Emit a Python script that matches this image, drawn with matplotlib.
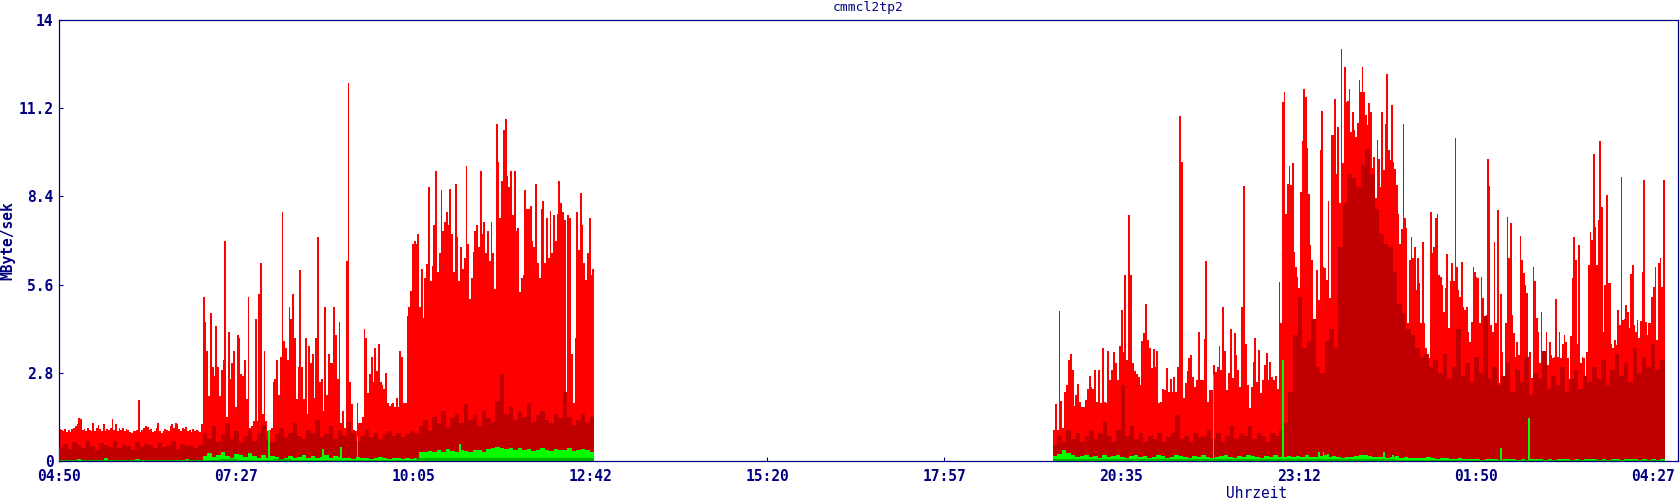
import matplotlib
matplotlib.use("Agg")
import matplotlib.pyplot as plt
import numpy as np

# time axis: minutes after 04:50, one day long
tick_labels = ['04:50', '07:27', '10:05', '12:42', '15:20', '17:57',
               '20:35', '23:12', '01:50', '04:27']
y_ticks = [0, 2.8, 5.6, 8.4, 11.2, 14]
y_tick_labels = ['0', '2.8', '5.6', '8.4', '11.2', '14']

# MByte/sek, red = max
red_left_quiet = [  # 04:50 - 06:58
    1.01, 1.0, 0.95, 1.01, 0.93, 0.97, 0.93, 1.01, 1.06, 1.11, 1.16, 1.35, 1.32, 0.97, 1.01,
    0.95, 1.06, 0.97, 0.95, 1.22, 0.95, 1.06, 1.14, 1.01, 0.95, 1.19, 0.95, 1.01, 0.97, 1.06,
    1.32, 0.97, 1.16, 0.95, 1.06, 0.98, 1.06, 0.95, 1.01, 0.97, 0.93, 0.90, 0.95, 0.95, 0.97,
    1.94, 0.93, 0.97, 1.06, 1.11, 1.08, 0.98, 1.01, 0.93, 0.95, 1.06, 1.22, 0.95, 0.90, 0.95,
    1.01, 0.97, 0.95, 1.11, 1.16, 1.06, 1.22, 1.16, 1.01, 0.95, 1.06, 1.01, 1.08, 0.95, 0.97,
    0.93, 1.01, 0.95, 0.97, 0.95, 0.93, 1.16]
red_left_busy = [  # 06:58 - 12:46
    5.2, 4.4, 3.5, 2.06, 4.7, 3.0, 2.7, 4.3, 3.0, 2.06, 2.9, 3.2, 7.0, 1.4, 4.1, 2.6, 3.1, 3.5,
    1.7, 4.0, 3.9, 2.75, 2.7, 3.2, 1.96, 5.2, 1.06, 1.1, 1.27, 4.5, 1.27, 5.3, 6.3, 1.5, 3.5,
    1.27, 0.95, 1.0, 1.06, 2.5, 2.6, 3.2, 2.1, 3.3, 7.9, 3.8, 3.6, 3.2, 4.9, 4.5, 5.3, 3.9,
    1.96, 3.0, 6.05, 3.0, 1.96, 3.9, 1.5, 3.65, 3.1, 3.4, 2.0, 3.9, 7.1, 2.5, 2.6, 1.6, 4.9,
    2.1, 3.4, 3.1, 3.1, 4.9, 4.0, 2.6, 4.4, 1.2, 1.6, 1.06, 6.35, 12.0, 2.5, 1.8, 1.0, 0.95,
    1.85, 1.2, 1.2, 1.4, 4.2, 3.9, 2.15, 2.75, 3.3, 2.5, 3.6, 2.85, 3.7, 2.5, 2.4, 2.3, 2.8,
    1.85, 1.75, 1.8, 1.85, 1.7, 2.0, 1.7, 3.5, 3.3, 1.85, 1.85, 4.6, 4.9, 5.4, 6.9, 7.0, 6.9,
    7.2, 4.9, 6.1, 4.55, 5.8, 6.25, 8.7, 5.7, 6.2, 7.5, 9.2, 6.0, 6.6, 8.6, 7.3, 7.6, 7.9, 7.5,
    8.65, 7.2, 6.0, 8.8, 7.1, 5.7, 6.8, 6.1, 6.45, 9.35, 6.9, 5.15, 5.8, 6.65, 7.3, 7.5, 6.8,
    9.2, 7.2, 7.6, 6.6, 7.3, 6.35, 7.6, 6.6, 5.45, 10.7, 9.5, 7.7, 8.9, 10.5, 10.85, 9.05, 8.7,
    9.2, 7.8, 9.2, 7.3, 7.4, 5.35, 5.8, 5.9, 8.6, 8.0, 8.0, 8.1, 7.0, 6.8, 8.8, 6.3, 5.8, 8.0,
    8.25, 6.3, 7.7, 6.45, 7.95, 6.6, 7.8, 7.0, 7.85, 8.9, 8.2, 7.9, 7.65, 0.2, 7.8, 7.7, 3.4,
    1.85, 3.9, 7.9, 6.7, 8.5, 7.5, 6.3, 5.75, 6.6, 7.7, 5.9, 6.1]
red_right_early = [  # 19:34 - 22:55
    1.0, 1.8, 1.0, 4.76, 1.9, 1.04, 2.2, 2.4, 3.2, 3.4, 2.9, 1.75, 2.1, 2.43, 1.86, 1.72, 1.72,
    1.94, 2.3, 2.7, 2.36, 2.3, 2.9, 1.88, 2.9, 1.83, 3.6, 1.88, 1.83, 3.5, 2.57, 2.9, 3.45, 3.1,
    2.57, 3.65, 4.8, 3.45, 5.9, 3.2, 7.8, 5.9, 3.1, 2.87, 2.76, 2.68, 2.4, 3.8, 4.05, 5.0, 3.85,
    3.6, 2.95, 3.55, 2.97, 3.5, 1.83, 1.86, 2.28, 2.25, 2.95, 2.2, 2.6, 2.2, 2.68, 2.2, 3.0,
    10.95, 9.5, 2.0, 2.47, 2.87, 3.26, 3.36, 2.68, 2.36, 2.57, 4.08, 2.57, 2.57, 3.87, 6.35,
    1.88, 2.25, 2.25, 3.05, 2.84, 3.0, 3.65, 2.9, 4.88, 3.5, 2.25, 2.78, 4.2, 2.62, 4.05, 3.36,
    2.89, 2.36, 4.9, 8.73, 3.7, 2.41, 1.67, 2.36, 3.15, 3.9, 2.52, 3.52, 2.17, 2.57, 3.05, 3.42,
    2.57, 3.13, 2.68, 2.57, 2.7, 2.3]
red_right_late = [  # 22:55 - 04:37
    5.67, 4.37, 11.4, 11.7, 7.83, 8.8, 9.37, 8.76, 9.47, 6.65, 6.17, 5.85, 5.5, 8.55, 10.16,
    11.8, 11.57, 9.93, 8.48, 6.86, 6.38, 2.65, 2.52, 6.06, 5.1, 9.87, 11.1, 6.17, 6.12, 5.75,
    8.25, 5.19, 10.35, 10.35, 11.5, 9.1, 10.6, 8.18, 13.08, 9.47, 12.5, 11.4, 11.44, 11.8, 10.45,
    11.09, 10.5, 10.3, 10.72, 12.1, 11.7, 12.5, 11.7, 11.0, 10.67, 11.38, 11.09, 9.3, 9.66, 8.34,
    10.2, 9.6, 8.7, 11.09, 9.24, 10.7, 12.3, 9.87, 9.55, 11.3, 9.5, 9.26, 8.76, 7.83, 6.9, 7.36,
    10.7, 7.7, 7.39, 4.37, 6.38, 7.12, 6.43, 6.8, 5.43, 6.43, 5.64, 4.37, 6.94, 4.37, 3.58, 2.94,
    3.26, 7.9, 6.6, 6.8, 7.7, 7.84, 5.9, 5.85, 5.59, 4.74, 5.48, 6.57, 4.21, 5.7, 6.28, 5.7,
    10.24, 6.17, 5.43, 5.22, 6.33, 4.9, 4.8, 4.9, 4.1, 3.79, 4.42, 6.17, 6.0, 5.85, 5.8, 4.37,
    5.83, 5.16, 3.52, 4.63, 9.6, 8.74, 4.32, 4.1, 6.96, 4.37, 7.97, 2.47, 5.29, 3.47, 2.2, 4.37,
    7.74, 6.43, 7.55, 4.63, 4.05, 3.31, 3.79, 3.36, 7.15, 6.38, 5.98, 5.59, 5.32, 3.15, 3.47,
    2.62, 6.17, 5.7, 4.53, 4.1, 3.1, 4.74, 2.73, 2.52, 4.1, 3.05, 3.79, 3.36, 3.26, 3.31, 5.13,
    3.31, 4.1, 3.26, 3.73, 4.0, 3.79, 3.26, 2.47, 3.97, 5.8, 7.1, 6.38, 3.73, 6.86, 3.1, 3.31,
    3.26, 2.68, 3.47, 6.22, 7.28, 7.02, 9.75, 7.44, 6.22, 7.65, 10.16, 8.07, 4.1, 5.59, 8.44,
    5.64, 5.64, 3.73, 3.58, 3.84, 3.68, 4.79, 4.32, 9.03, 4.48, 4.52, 4.95, 4.74, 4.21, 5.94,
    6.22, 4.32, 4.1, 4.48, 3.89, 4.46, 6.01, 8.92, 4.42, 4.0, 4.37, 4.37, 5.22, 5.53, 6.17,
    3.84, 6.28, 6.43, 5.53, 8.92]

# dark red = average, 4 minute steps
darkred_left = [
    0.45, 0.55, 0.38, 0.6, 0.5, 0.42, 0.65, 0.48, 0.35, 0.58, 0.5, 0.44, 0.62, 0.4, 0.52, 0.47,
    0.36, 0.6, 0.45, 0.55, 0.5, 0.4, 0.58, 0.43, 0.5, 0.62, 0.38, 0.55, 0.47, 0.52, 0.4, 0.5,
    0.9, 0.7, 1.1, 0.6, 0.85, 1.2, 0.7, 0.95, 0.6, 0.8, 1.0, 0.65, 0.9, 1.15, 0.7, 0.6, 0.85,
    1.05, 0.75, 0.9, 1.2, 0.8, 0.7, 1.0, 0.9, 1.3, 0.75, 0.85, 1.1, 0.7, 0.95, 0.8, 1.25, 0.9,
    0.65, 0.8, 1.0, 0.75, 0.9, 0.7, 0.85, 0.95, 0.8, 0.9, 0.75, 0.85, 0.95, 0.9,
    1.1, 1.3, 0.95, 1.4, 1.2, 1.6, 1.05, 1.35, 1.5, 1.2, 1.8, 1.3, 1.45, 1.1, 1.6, 1.35, 1.25,
    1.9, 2.75, 1.5, 1.7, 1.3, 1.55, 1.4, 1.85, 1.25, 1.45, 1.6, 1.3, 1.2, 1.5, 1.35, 2.2, 1.4,
    1.15, 1.3, 1.5, 1.25, 1.4]
darkred_right = [
    0.5, 0.8, 0.6, 1.0, 0.7, 0.9, 0.6, 0.8, 1.0, 0.7, 0.9, 1.25, 0.8, 0.6, 1.0, 2.4, 0.8, 1.1,
    0.7, 0.9, 0.6, 0.8, 0.7, 0.9, 0.6, 0.75, 0.9, 1.46, 0.7, 0.8, 0.6, 0.9, 0.75, 0.8, 1.0, 0.7,
    0.9, 0.6, 0.8, 1.1, 0.7, 0.9, 0.8, 1.1, 0.7, 0.9, 0.8, 0.6, 0.9, 0.8, 1.0, 1.2,
    2.2, 4.0, 5.2, 3.6, 3.8, 4.5, 3.0, 2.8, 3.8, 4.2, 3.6, 6.8, 8.2, 9.1, 9.0, 8.7, 9.4, 9.9,
    9.1, 8.0, 7.2, 6.9, 6.8, 6.0, 5.0, 4.7, 4.2, 4.0, 3.6, 3.3, 3.4, 3.0,
    3.2, 2.8, 3.4, 2.6, 3.0, 4.2, 2.7, 3.1, 2.5, 3.3, 2.8, 4.6, 2.6, 3.0, 2.4,
    2.7, 3.1, 2.2, 2.9, 2.5, 3.3, 2.1, 2.8, 2.6, 3.5, 2.3, 2.7, 2.4, 3.0, 2.2, 2.6, 2.9, 2.3,
    2.7, 2.5, 3.0, 2.6, 3.2, 2.4, 2.9, 3.4, 2.7, 3.1, 2.5, 3.6, 2.8, 3.3, 3.0, 3.7, 2.9, 3.2]

# green = outgoing, 4 minute steps
green_left = [
    0.03, 0.04, 0.03, 0.03, 0.05, 0.03, 0.03, 0.04, 0.03, 0.03, 0.1, 0.03, 0.03, 0.04, 0.03,
    0.03, 0.03, 0.05, 0.03, 0.03, 0.04, 0.03, 0.03, 0.03, 0.04, 0.03, 0.03, 0.03, 0.05, 0.03,
    0.04, 0.03,
    0.15, 0.25, 0.12, 0.2, 0.3, 0.15, 0.1, 0.22, 0.18, 0.12, 0.25, 0.15, 0.1, 0.2, 0.08, 0.15,
    0.12, 0.06, 0.1, 0.15, 0.08, 0.12, 0.2, 0.1, 0.15, 0.08, 0.12, 0.18, 0.1, 0.15, 0.12, 0.08,
    0.1, 0.06, 0.12, 0.08, 0.1, 0.06, 0.08, 0.12, 0.1, 0.07, 0.1, 0.08, 0.06, 0.09, 0.07, 0.08,
    0.28, 0.3, 0.32, 0.27, 0.35, 0.3, 0.38, 0.33, 0.3, 0.36, 0.32, 0.3, 0.35, 0.34, 0.3, 0.38,
    0.42, 0.45, 0.4, 0.38, 0.42, 0.36, 0.4, 0.35, 0.38, 0.33, 0.36, 0.4, 0.35, 0.32, 0.38, 0.34,
    0.36, 0.4, 0.33, 0.35, 0.38, 0.34, 0.3]
green_right = [
    0.15, 0.22, 0.35, 0.25, 0.18, 0.12, 0.15, 0.2, 0.12, 0.15, 0.1, 0.18, 0.12, 0.15, 0.2, 0.12,
    0.1, 0.15, 0.18, 0.12, 0.15, 0.1, 0.12, 0.18, 0.15, 0.1, 0.12, 0.2, 0.15, 0.12, 0.1, 0.15,
    0.12, 0.18, 0.14, 0.1, 0.12, 0.15, 0.18, 0.12, 0.1, 0.15, 0.12, 0.2, 0.15, 0.12, 0.1, 0.15,
    0.12, 0.18, 0.14, 0.12, 0.15, 0.12,
    0.15, 0.12, 0.18, 0.14, 0.12, 0.15, 0.18, 0.12, 0.15, 0.12, 0.1, 0.14, 0.12, 0.15, 0.18, 0.2,
    0.15, 0.12, 0.14, 0.12, 0.1, 0.12, 0.15, 0.1, 0.12, 0.1, 0.08, 0.1, 0.08, 0.12, 0.08, 0.06,
    0.08, 0.1, 0.07, 0.06, 0.08, 0.06, 0.05, 0.06,
    0.05, 0.04, 0.05, 0.06, 0.05, 0.04, 0.05, 0.06, 0.05, 0.04, 0.05, 0.04, 0.05, 0.06, 0.05,
    0.04, 0.05, 0.04, 0.05, 0.06, 0.05, 0.04, 0.05, 0.04, 0.05, 0.06, 0.05, 0.04, 0.05, 0.04,
    0.05, 0.05, 0.04, 0.05, 0.06, 0.05, 0.04, 0.05, 0.04, 0.05, 0.04, 0.05]
green_spike_min = [186, 234, 250, 265, 325, 356, 1026, 1088, 1120, 1124, 1128, 1178, 1186, 1282, 1307]
green_spike_val = [1.0, 0.37, 0.45, 0.8, 0.3, 0.53, 2.73, 3.2, 0.3, 0.3, 0.22, 0.28, 0.2, 0.42, 1.38]

# dark green = outgoing average, 16 minute steps
dkgreen_left = [0.02, 0.02, 0.02, 0.02, 0.02, 0.02, 0.02, 0.02, 0.04, 0.05, 0.04, 0.04, 0.05,
                0.04, 0.03, 0.04, 0.03, 0.03, 0.04, 0.03, 0.08, 0.09, 0.08, 0.1, 0.09, 0.1, 0.09,
                0.08, 0.09, 0.08]
dkgreen_right = [0.07, 0.06, 0.07, 0.06, 0.07, 0.06, 0.07, 0.06, 0.07, 0.06, 0.07, 0.06, 0.07,
                 0.06, 0.06, 0.05, 0.06, 0.05, 0.05, 0.04, 0.03, 0.03, 0.03, 0.03, 0.03, 0.03,
                 0.03, 0.03, 0.03, 0.03, 0.03, 0.03, 0.03, 0.03]

# segment limits in minutes after 04:50
left_start, left_switch, left_end = 0, 128, 476
right_start, right_switch, right_end = 884, 1085, 1428

navy = '#000080'
c_red = '#ff0000'
c_darkred = '#c00000'
c_green = '#00ff00'
c_dkgreen = '#00b000'
plt.rcParams['font.family'] = 'DejaVu Sans Mono'

fig = plt.figure(figsize=(16.8, 5.0), dpi=100)
ax = fig.add_axes([59 / 1680, 39 / 500, 1619 / 1680, 441 / 500])


def draw(vals, t0, t1, color, z):
    edges = np.linspace(t0, t1, len(vals) + 1)
    ax.stairs(vals, edges, fill=True, color=color, linewidth=0, antialiased=False, zorder=z)


draw(red_left_quiet, left_start, left_switch, c_red, 2)
draw(red_left_busy, left_switch, left_end, c_red, 2)
draw(red_right_early, right_start, right_switch, c_red, 2)
draw(red_right_late, right_switch, right_end, c_red, 2)
draw(darkred_left, left_start, left_end, c_darkred, 3)
draw(darkred_right, right_start, right_end, c_darkred, 3)
draw(green_left, left_start, left_end, c_green, 4)
draw(green_right, right_start, right_end, c_green, 4)
ax.bar(green_spike_min, green_spike_val, width=1.3, align='edge', color=c_green,
       linewidth=0, zorder=4)
draw(dkgreen_left, left_start, left_end, c_dkgreen, 5)
draw(dkgreen_right, right_start, right_end, c_dkgreen, 5)

ax.set_xlim(0, 1440)
ax.set_ylim(0, 14)
ax.set_xticks(np.arange(len(tick_labels)) * 157.5)
ax.set_xticklabels(tick_labels)
ax.set_yticks(y_ticks)
ax.set_yticklabels(y_tick_labels)
ax.tick_params(axis='both', direction='in', length=3, width=0.8, color=navy,
               labelcolor=navy, labelsize=10.5)
ax.tick_params(axis='x', pad=6)
ax.tick_params(axis='y', pad=4)
for lab in ax.get_xticklabels() + ax.get_yticklabels():
    lab.set_fontweight('bold')
for sp in ax.spines.values():
    sp.set_color(navy)
    sp.set_linewidth(0.9)

ax.set_ylabel('MByte/sek', color=navy, fontsize=10.5, fontweight='bold')
ax.yaxis.set_label_coords(-0.0315, 0.5)
ax.yaxis.label.set_va('center')
ax.set_xlabel('Uhrzeit', color=navy, fontsize=10.5)
ax.xaxis.set_label_coords(0.740, -0.0726)
ax.xaxis.label.set_va('center')
fig.text(868 / 1680, 1 - 8 / 500, 'cmmcl2tp2', color=navy, fontsize=9.4,
         ha='center', va='center')

fig.savefig('out.png', dpi=100)
